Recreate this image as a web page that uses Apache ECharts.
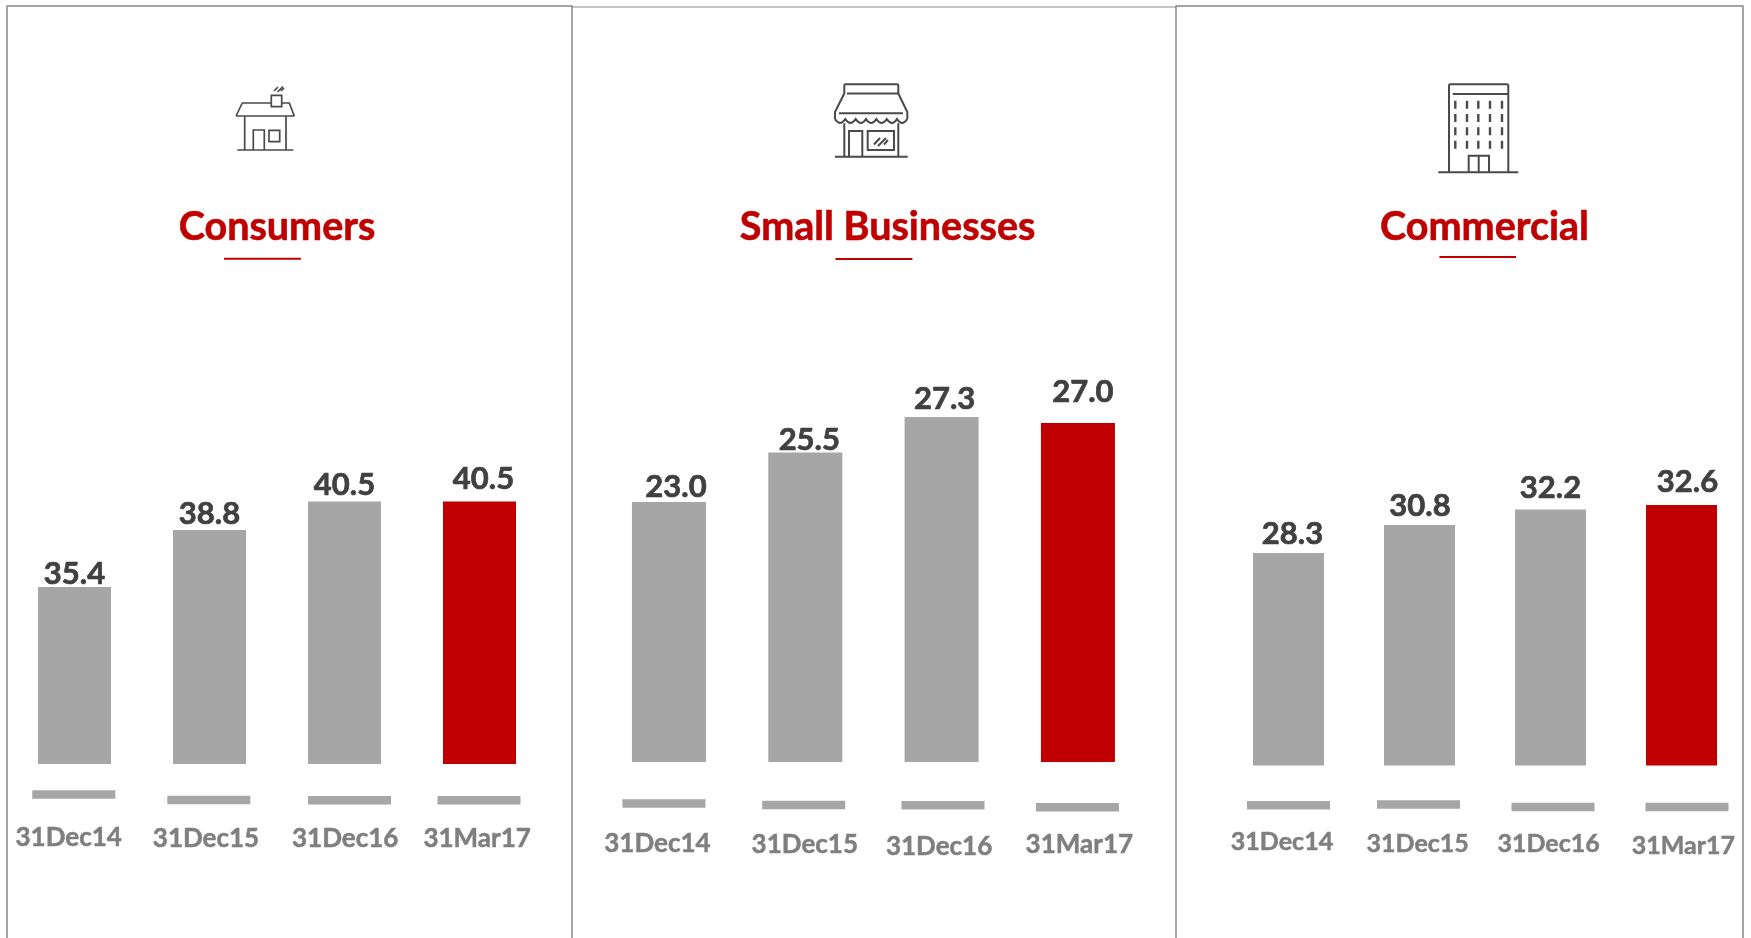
<!DOCTYPE html>
<html>
<head>
<meta charset="utf-8">
<style>html,body{margin:0;padding:0;background:#fff}#chart{width:1751px;height:938px}</style>
<script src="https://cdn.jsdelivr.net/npm/echarts@6/dist/echarts.min.js"></script>
</head>
<body>
<div id="chart"></div>
<script>
// Period labels shared by the three customer segments
const periods = ['31Dec14', '31Dec15', '31Dec16', '31Mar17'];
const segmentNames = ['Consumers', 'Small Businesses', 'Commercial'];

// Balances per segment
const consumers = [35.4, 38.8, 40.5, 40.5];
const smallBusinesses = [23.0, 25.5, 27.3, 27.0];
const commercial = [28.3, 30.8, 32.2, 32.6];
const segmentValues = [consumers, smallBusinesses, commercial];

// Truncated value ranges of the hidden y axes
const axisMin = [24.84, 9.85, 9.26];
const axisMax = [45, 30, 35];

// Plot frames: left, width, top, height
const frames = [
  [7, 540, 426, 338],
  [600.8, 545.3, 363.6, 398.4],
  [1223, 524, 478.2, 287.3]
];
const barWidths = [73, 74, 71];
const tickFontSizes = [26, 26, 25];

// Hand placement of value labels relative to each bar
const valueNudgeX = [[0, 0, 0, 4], [7, 4, 3, 5], [4, 0.5, 0, 6]];
const valueGap = [[2.7, 5, 6, 11.7], [4.7, 2.3, 7, 20.7], [8, 8.3, 10.7, 12.7]];

// Hand placement of the period labels and the grey dashes above them
const tickNudgeX = [[-5.8, -3.5, 0.7, -2.4], [-11.5, -0.5, -2.5, 1.4], [-6.5, -1.8, -1.9, 1.8]];
const tickDrop = [[18.7, 20.3, 20.3, 20.3], [27.3, 28.3, 29.7, 28], [22.2, 24.5, 24.5, 26.5]];
const dashNudgeX = [[-0.7, -0.7, 5, -0.5], [-5, -1.6, 1.4, -0.5], [0, -1, 2.5, 5.5]];
const dashDrop = [[26.3, 31.7, 32, 32], [37.3, 38.7, 39, 41], [35.5, 34.8, 37.2, 37.2]];

// Heading centres and underline spans
const titleCentres = [277, 887.6, 1484.5];
const underlines = [[224, 301, 258.7], [835.5, 912.4, 259], [1439.4, 1516, 257]];

const GREY = '#a6a6a6', RED = '#c00000', INK = '#404040', TICK = '#7f7f7f', BORDER = '#888888';
const FONT = 'Lato, "Noto Sans", sans-serif';

// Outline icons, drawn as stroked paths
const houseIcon = 'M237.3 150H293.3M244.7 116V150M286 116V150M236 116H294.3M236 116L242.3 103H271.3M281.7 103H289.3L294.3 116' +
  'M271.3 95.3H281.7V106.7H271.3ZM253.3 150V130H264.3V150M269 130.3H279.7V141.7H269Z' +
  'M274 91L278 87M277.5 92L283 86.5M281 91L284 88';
const shopIcon = 'M835 156.7H907.7M844.3 123.3V156.7M898.3 123.3V156.7M844.3 94V85.5Q844.3 84.3 845.5 84.3H897Q898.3 84.3 898.3 85.5V94' +
  'M847 93.5H898.3M844.3 93.5L835 112V119M898.3 93.5L907.3 112V119M839 113.3H903' +
  'M835 119Q840 127 845.3 119Q850.5 127 855.7 119Q861 127 866 119Q871 127 876.4 119Q881.5 127 886.8 119Q892 127 897 119Q902 127 907.3 119' +
  'M849 156.7V131H862.3V156.7M867.7 131H894V150H867.7ZM874 144.5L880 138M878 146L886 138M884 144.5L888 140';
const towerIcon = 'M1438.3 172.3H1518.3M1449 172V85.5Q1449 84.3 1450.2 84.3H1507Q1508.3 84.3 1508.3 85.5V172M1452.7 94H1508.3' +
  'M1468.7 172V155.7H1489V172M1478.7 155.7V172';
const windowCols = [1455.3, 1467, 1478.3, 1490, 1502];
const windowRows = [100.7, 114, 127.3, 140.7];
const towerWindows = windowCols.map(x => windowRows.map(y => `M${x} ${y}v8`).join('')).join('');

// Register the icon outlines as shapes the graphic component can place
const iconShapes = { houseIcon, shopIcon, towerIcon, towerWindows };
Object.keys(iconShapes).forEach(name => {
  echarts.graphic.registerShape(name, echarts.graphic.extendPath(iconShapes[name], {}));
});

function strokeIcon(type, width) {
  return { type, style: { fill: 'none', stroke: '#4a4a4a', lineWidth: width }, silent: true };
}
function rule(x1, y1, x2, y2, color, width) {
  return { type: 'line', shape: { x1, y1, x2, y2 }, style: { stroke: color, lineWidth: width }, silent: true };
}

const grids = [], xAxes = [], yAxes = [], series = [];
segmentValues.forEach((values, p) => {
  const [left, width, top, height] = frames[p];
  grids.push({ left, width, top, height, containLabel: false });
  xAxes.push({
    type: 'category', gridIndex: p,
    axisLine: { show: false }, axisTick: { show: false },
    axisLabel: {
      interval: 0, margin: 41.5, color: TICK, fontFamily: FONT, fontWeight: 'bold', fontSize: tickFontSizes[p], hideOverlap: false,
      textBorderColor: TICK, textBorderWidth: 0.5
    },
    data: periods.map((name, i) => {
      const dx = tickNudgeX[p][i];
      return {
        value: name,
        textStyle: {
          padding: [tickDrop[p][i], dx < 0 ? -2 * dx : 0, 0, dx > 0 ? 2 * dx : 0],
          textBorderColor: TICK, textBorderWidth: 0.5
        }
      };
    })
  });
  yAxes.push({ type: 'value', gridIndex: p, min: axisMin[p], max: axisMax[p], show: false });
  series.push({
    type: 'bar', xAxisIndex: p, yAxisIndex: p, barWidth: barWidths[p], silent: true,
    data: values.map((v, i) => ({
      value: v,
      itemStyle: { color: i === values.length - 1 ? RED : GREY },
      label: { offset: [valueNudgeX[p][i], -valueGap[p][i] + 5] }
    })),
    label: {
      show: true, position: 'top', distance: 0, color: INK, fontFamily: FONT, fontWeight: 'bold', fontSize: 31,
      textBorderColor: INK, textBorderWidth: 0.7,
      formatter: o => o.value.toFixed(1)
    }
  });
  // Grey dash under each bar, anchored to its category
  series.push({
    type: 'custom', xAxisIndex: p, yAxisIndex: p, silent: true, clip: false,
    data: periods.map((_, i) => [i, axisMin[p]]),
    renderItem(params, api) {
      const i = api.value(0);
      const at = api.coord([i, axisMin[p]]);
      return {
        type: 'rect',
        shape: { x: at[0] + dashNudgeX[p][i] - 41.5, y: at[1] + dashDrop[p][i], width: 83, height: 8.5 },
        style: { fill: GREY }
      };
    }
  });
});

const graphics = [
  // Panel frames
  { type: 'polyline', shape: { points: [[7, 938], [7, 6], [572, 6], [572, 938]] }, style: { fill: 'none', stroke: BORDER, lineWidth: 1.5 }, silent: true },
  rule(572, 7, 1176, 7, BORDER, 1),
  { type: 'polyline', shape: { points: [[1176, 938], [1176, 6], [1743, 6], [1743, 938]] }, style: { fill: 'none', stroke: BORDER, lineWidth: 1.5 }, silent: true },
  strokeIcon('houseIcon', 1.7), strokeIcon('shopIcon', 2), strokeIcon('towerIcon', 2), strokeIcon('towerWindows', 2.4)
];
underlines.forEach(([a, b, y]) => graphics.push(rule(a, y, b, y, RED, 2)));

const option = {
  backgroundColor: '#fff',
  animation: false,
  title: segmentNames.map((text, i) => ({
    text, left: titleCentres[i], top: 207, padding: 0, textAlign: 'center',
    textStyle: { color: RED, fontFamily: FONT, fontWeight: 'bold', fontSize: 39.5, textBorderColor: RED, textBorderWidth: 0.6 }
  })),
  grid: grids, xAxis: xAxes, yAxis: yAxes, series,
  graphic: graphics
};
echarts.init(document.getElementById('chart'), null, { renderer: 'canvas' }).setOption(option);
</script>
</body>
</html>
